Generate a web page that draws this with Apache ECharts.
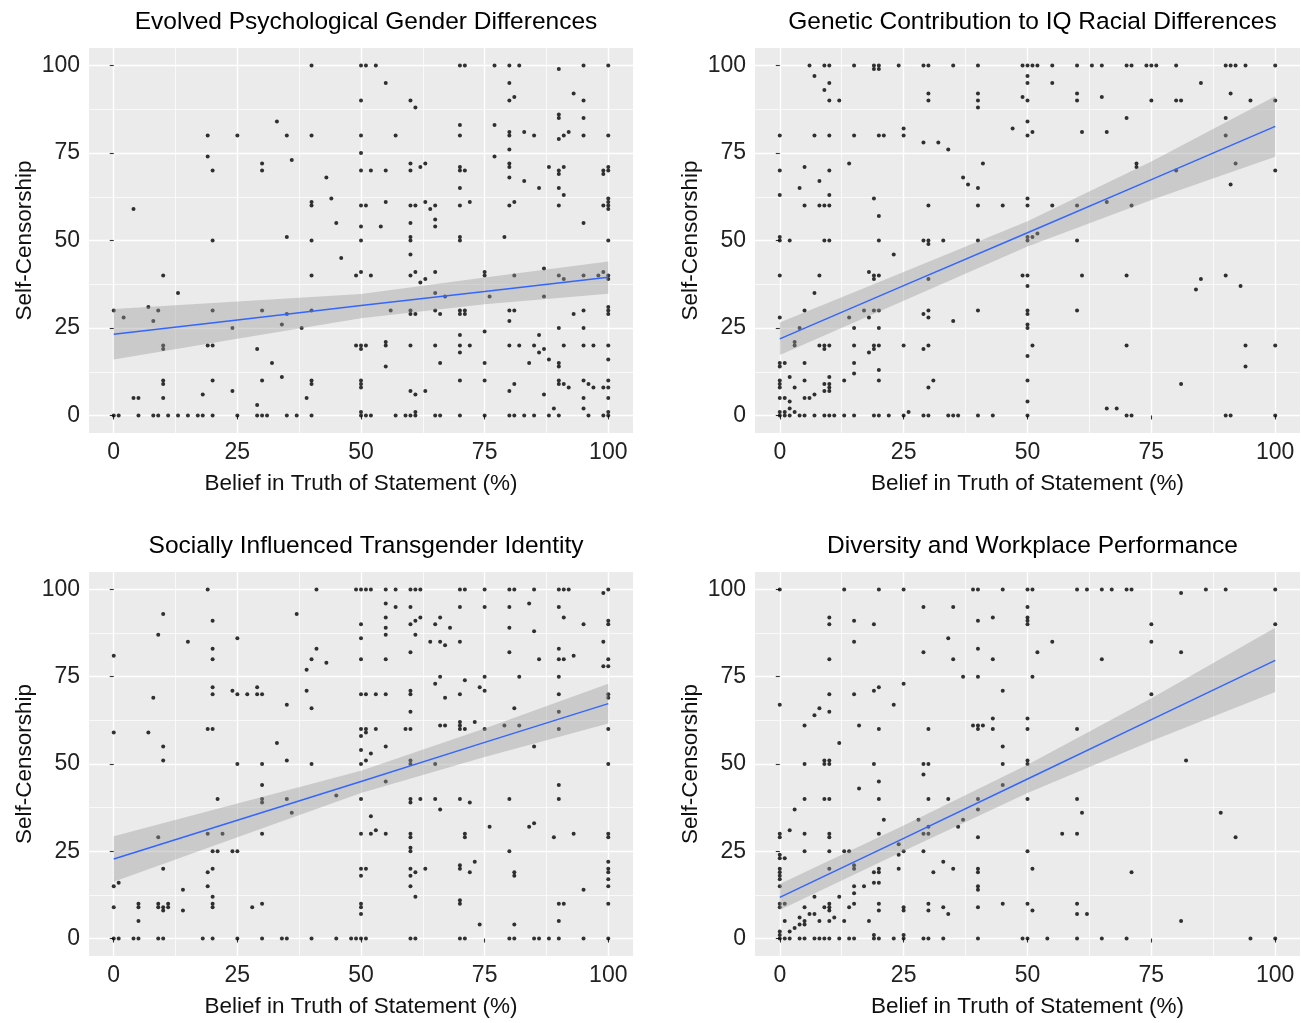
<!DOCTYPE html>
<html>
<head>
<meta charset="utf-8">
<script src="https://cdn.jsdelivr.net/npm/echarts@6/dist/echarts.min.js"></script>
<style>
html, body { margin: 0; padding: 0; background: #fff; }
#main { width: 1301px; height: 1023px; }
</style>
</head>
<body>
<div id="main"></div>
<script>
// ---- data ----
const panelTitles = [
  'Evolved Psychological Gender Differences',
  'Genetic Contribution to IQ Racial Differences',
  'Socially Influenced Transgender Identity',
  'Diversity and Workplace Performance'
];
const xName = 'Belief in Truth of Statement (%)';
const yName = 'Self-Censorship';
const majorTicks = [0, 25, 50, 75, 100];
const minorTicks = [12.5, 37.5, 62.5, 87.5];

// x positions where the fit line and band were read
const fitX = [0, 25, 50, 75, 100];

// panel 1
const p1Points = [
  [40,100],[50,100],[50,90],[33,84],[19,80],[25,80],[35,80],[40,80],[50,80],[50,75],[19,74],[36,73],[30,72],[20,70],[30,70],[50,70],
  [43,68],[44,62],[40,61],[40,60],[50,60],[4,59],[45,55],[50,54],[35,51],[20,50],[40,50],[50,50],[46,45],[50,41],[10,40],[40,40],[49,40],
  [13,35],[7,31],[0,30],[9,30],[20,30],[30,30],[40,30],[35,29],[2,28],[8,27],[34,26],[24,25],[38,25],[10,20],[19,20],[20,20],[49,20],[50,20],
  [10,19],[29,19],[50,19],[32,15],[34,11],[10,10],[20,10],[30,10],[40,10],[50,10],[10,9],[40,9],[50,9],[50,8],[24,7],[18,6],[4,5],[5,5],
  [10,5],[39,5],[29,3],[50,1],[0,0],[1,0],[5,0],[8,0],[9,0],[11,0],[13,0],[15,0],[17,0],[18,0],[20,0],[25,0],[29,0],[30,0],[31,0],[35,0],
  [37,0],[40,0],[50,0],
  [51,100],[53,100],[70,100],[71,100],[77,100],[80,100],[82,100],[95,100],[100,100],[90,99],[55,95],[80,95],[93,92],[81,91],[60,90],[80,90],
  [95,90],[61,88],[90,86],[90,85],[95,85],[70,83],[77,83],[80,81],[83,81],[92,81],[57,80],[70,80],[80,80],[85,80],[91,80],[95,80],[100,80],
  [90,79],[80,76],[77,74],[60,72],[63,72],[80,72],[62,71],[70,71],[80,71],[88,71],[91,71],[100,71],[52,70],[55,70],[60,70],[70,70],[71,70],
  [90,70],[99,70],[100,70],[90,69],[99,69],[80,68],[83,67],[70,65],[86,65],[90,65],[91,63],[100,62],[55,61],[63,61],[72,61],[81,61],[100,61],
  [51,60],[60,60],[61,60],[65,60],[70,60],[80,60],[90,60],[99,60],[100,60],[64,59],[100,59],[65,56],[60,55],[95,55],[54,54],[65,54],[60,51],
  [70,51],[79,51],[60,50],[70,50],[100,50],[60,46],[87,42],[61,41],[65,41],[75,41],[99,41],[52,40],[60,40],[75,40],[81,40],[90,40],[95,40],
  [98,40],[100,40],[63,39],[91,39],[100,39],[62,38],[65,35],[67,34],[76,34],[87,34],[100,31],[56,30],[60,30],[65,30],[70,30],[71,30],[80,30],
  [81,30],[95,30],[100,30],[60,29],[61,29],[66,29],[70,29],[71,29],[93,29],[100,29],[80,27],[90,25],[95,25],[75,24],[70,23],[86,23],[55,21],
  [51,20],[55,20],[60,20],[65,20],[70,20],[72,20],[80,20],[82,20],[85,20],[91,20],[95,20],[97,20],[100,20],[87,19],[70,18],[86,18],[88,16],
  [100,16],[66,15],[75,15],[84,15],[90,15],[55,14],[90,14],[70,10],[75,10],[90,10],[95,10],[100,10],[81,9],[90,9],[91,9],[96,9],[92,8],
  [97,8],[99,8],[100,8],[60,7],[63,7],[80,7],[61,6],[87,6],[95,5],[100,5],[89,2],[95,2],[61,1],[100,1],[51,0],[52,0],[57,0],[59,0],[60,0],
  [61,0],[65,0],[66,0],[70,0],[75,0],[80,0],[81,0],[83,0],[85,0],[88,0],[90,0],[96,0],[99,0],[100,0]
];
const p1Fit = [23.2, 27.3, 31.4, 35.4, 39.5];
const p1Upper = [30.4, 32.6, 34.7, 39.4, 44.0];
const p1Lower = [16.0, 21.9, 27.8, 31.8, 34.8];

// panel 2
const p2Points = [
  [6,100],[9,100],[10,100],[15,100],[19,100],[20,100],[24,100],[29,100],[30,100],[35,100],[40,100],[49,100],[19,99],[20,99],[7,97],[10,95],
  [9,93],[30,92],[40,92],[49,91],[10,90],[12,90],[30,90],[40,90],[40,88],[25,82],[47,82],[0,80],[7,80],[10,80],[15,80],[20,80],[21,80],
  [25,80],[29,78],[32,78],[34,76],[14,72],[41,72],[5,71],[0,70],[10,70],[37,68],[8,67],[38,66],[4,65],[40,65],[0,63],[10,63],[19,62],[5,60],
  [8,60],[9,60],[10,60],[30,60],[40,60],[45,60],[20,57],[0,51],[0,50],[2,50],[9,50],[10,50],[20,50],[29,50],[30,50],[33,50],[40,50],[30,49],
  [23,46],[18,41],[0,40],[8,40],[19,40],[20,40],[49,40],[19,39],[30,39],[7,35],[5,30],[17,30],[19,30],[20,30],[30,30],[40,30],[29,29],[0,28],
  [14,28],[18,28],[30,28],[35,27],[4,25],[15,25],[20,25],[3,21],[3,20],[8,20],[9,20],[10,20],[15,20],[19,20],[20,20],[25,20],[30,20],[9,19],
  [19,19],[29,19],[18,18],[0,15],[1,15],[5,15],[15,15],[0,14],[20,13],[15,12],[2,11],[10,11],[0,10],[5,10],[13,10],[20,10],[31,10],[0,9],
  [9,9],[10,9],[0,8],[3,8],[10,8],[30,8],[9,7],[10,7],[7,6],[0,5],[1,5],[5,5],[6,5],[2,4],[2,2],[0,1],[1,1],[3,1],[26,1],[0,0],[1,0],[2,0],
  [4,0],[5,0],[7,0],[9,0],[10,0],[11,0],[13,0],[15,0],[19,0],[20,0],[22,0],[25,0],[29,0],[30,0],[34,0],[35,0],[36,0],[40,0],[43,0],
  [50,100],[50,97],[50,95],[50,90],[50,84],[50,80],[50,62],[50,60],[50,51],[50,50],[50,40],[50,37],[50,30],[50,29],[50,26],[50,25],[50,17],
  [50,10],[50,4],[50,0],
  [51,100],[52,100],[55,100],[60,100],[63,100],[65,100],[70,100],[71,100],[74,100],[75,100],[76,100],[80,100],[90,100],[91,100],[92,100],
  [94,100],[100,100],[55,95],[85,95],[60,92],[91,92],[65,91],[60,90],[75,90],[80,90],[81,90],[95,90],[100,90],[70,85],[90,85],[51,81],[61,81],
  [66,81],[90,80],[72,72],[92,72],[72,71],[80,70],[100,70],[91,66],[66,61],[55,60],[60,60],[71,60],[51,51],[52,52],[60,50],[61,40],[70,40],
  [90,40],[85,39],[93,37],[84,36],[60,30],[51,20],[70,20],[94,20],[100,20],[94,14],[81,9],[66,2],[68,2],[70,0],[71,0],[90,0],[91,0],[100,0]
];
const p2Fit = [21.9, 37.1, 52.2, 67.4, 82.6];
const p2Upper = [26.6, 41.0, 55.5, 72.6, 91.2];
const p2Lower = [17.3, 32.8, 48.3, 61.6, 73.9];

// panel 3
const p3Points = [
  [19,100],[41,100],[49,100],[50,100],[10,93],[37,93],[20,91],[50,90],[9,87],[25,86],[50,86],[15,85],[20,83],[41,83],[0,81],[20,80],[40,80],
  [50,80],[43,79],[39,77],[20,72],[29,72],[24,71],[39,71],[20,70],[25,70],[27,70],[29,70],[30,70],[50,70],[8,69],[35,67],[40,66],[19,60],
  [20,60],[50,60],[0,59],[7,59],[50,58],[33,56],[10,55],[50,54],[10,51],[35,51],[25,50],[30,50],[40,50],[50,50],[30,44],[45,41],[21,40],
  [30,40],[35,40],[50,40],[30,39],[36,36],[19,30],[22,30],[30,30],[50,30],[9,29],[20,25],[21,25],[24,25],[25,25],[10,20],[20,20],[50,20],
  [19,19],[50,18],[1,16],[0,15],[19,15],[14,14],[20,12],[5,10],[9,10],[11,10],[20,10],[30,10],[50,10],[0,9],[5,9],[9,9],[10,9],[11,9],[20,9],
  [28,9],[50,9],[10,8],[14,8],[50,7],[5,5],[0,0],[1,0],[4,0],[5,0],[9,0],[10,0],[18,0],[20,0],[25,0],[30,0],[34,0],[35,0],[40,0],[45,0],
  [48,0],[49,0],[50,0],
  [51,100],[52,100],[55,100],[57,100],[60,100],[61,100],[62,100],[70,100],[71,100],[75,100],[80,100],[81,100],[85,100],[90,100],[91,100],
  [92,100],[100,100],[99,99],[55,96],[84,96],[57,95],[60,95],[70,95],[75,95],[80,95],[90,95],[55,92],[62,92],[66,92],[91,92],[61,91],[100,91],
  [60,90],[65,90],[95,90],[100,90],[55,89],[68,89],[80,89],[85,88],[55,87],[61,87],[64,85],[66,85],[70,85],[99,85],[67,84],[90,83],[60,82],
  [80,82],[93,81],[55,80],[86,80],[90,80],[91,80],[100,80],[99,78],[100,78],[66,75],[75,75],[82,75],[90,75],[71,74],[65,73],[74,72],[75,71],
  [60,71],[51,70],[53,70],[55,70],[60,70],[70,70],[90,70],[100,70],[67,69],[100,69],[81,66],[60,65],[90,65],[70,62],[73,62],[66,61],[67,61],
  [70,61],[79,61],[82,61],[51,60],[53,60],[59,60],[60,60],[70,60],[71,60],[75,60],[90,60],[100,60],[51,59],[55,55],[85,55],[52,53],[51,51],
  [60,51],[60,50],[65,50],[100,50],[55,45],[90,44],[60,40],[62,40],[65,40],[70,40],[80,40],[90,40],[60,39],[72,39],[66,37],[52,35],[85,33],
  [76,32],[84,32],[53,31],[52,30],[55,30],[60,30],[71,30],[93,30],[100,30],[60,29],[71,29],[89,29],[100,29],[60,26],[60,25],[80,25],[73,22],
  [100,22],[70,21],[51,20],[60,20],[63,20],[70,20],[100,20],[61,19],[72,19],[81,19],[100,19],[60,18],[81,18],[100,17],[60,15],[100,15],
  [95,14],[61,12],[70,11],[70,10],[90,10],[91,10],[100,10],[90,5],[74,4],[81,4],[51,0],[60,0],[61,0],[70,0],[71,0],[80,0],[81,0],[85,0],
  [86,0],[88,0],[90,0],[95,0],[100,0]
];
const p3Fit = [22.8, 33.9, 45.0, 56.2, 67.3];
const p3Upper = [29.3, 38.7, 48.1, 60.2, 73.0];
const p3Lower = [16.3, 29.0, 41.7, 52.0, 61.6];

// panel 4
const p4Points = [
  [0,100],[13,100],[20,100],[25,100],[39,100],[40,100],[45,100],[50,100],[29,95],[35,95],[50,95],[10,92],[43,92],[50,92],[15,91],[40,91],
  [50,91],[10,90],[19,90],[50,90],[34,86],[15,85],[40,83],[29,82],[10,80],[35,80],[43,80],[37,75],[40,75],[25,73],[20,72],[19,71],[45,71],
  [10,70],[15,70],[0,67],[23,67],[8,66],[10,65],[7,64],[43,63],[50,63],[5,61],[16,61],[39,61],[40,61],[41,61],[20,60],[30,60],[40,60],[43,60],
  [50,60],[12,56],[45,55],[9,51],[10,51],[50,51],[5,50],[9,50],[10,50],[19,50],[29,50],[30,50],[45,50],[50,50],[29,47],[20,45],[45,44],
  [16,43],[5,40],[9,40],[10,40],[20,40],[30,40],[34,40],[40,40],[50,40],[3,37],[40,37],[21,34],[28,34],[37,34],[30,32],[36,32],[2,31],[0,30],
  [5,30],[10,30],[20,30],[29,30],[30,30],[0,29],[10,29],[40,29],[24,27],[5,25],[10,25],[13,25],[14,25],[25,25],[29,25],[50,25],[24,24],
  [0,24],[0,23],[1,23],[33,22],[15,21],[0,20],[10,20],[15,20],[20,20],[24,20],[35,20],[40,20],[0,19],[19,19],[20,19],[31,19],[40,19],[0,18],
  [0,17],[19,16],[20,16],[0,15],[15,15],[17,15],[40,15],[40,14],[15,13],[7,12],[12,12],[0,10],[1,10],[10,10],[15,10],[20,10],[30,10],[45,10],
  [50,10],[0,9],[5,9],[9,9],[10,9],[14,9],[25,9],[33,9],[40,9],[10,8],[20,8],[25,8],[30,8],[6,7],[7,7],[34,7],[4,6],[11,6],[1,5],[5,5],[8,5],
  [10,5],[13,5],[18,5],[4,4],[5,4],[3,3],[0,2],[2,2],[0,1],[19,1],[25,1],[0,0],[1,0],[2,0],[4,0],[5,0],[7,0],[8,0],[9,0],[10,0],[12,0],
  [14,0],[15,0],[19,0],[20,0],[23,0],[25,0],[29,0],[30,0],[33,0],[40,0],[49,0],[50,0],
  [51,100],[60,100],[62,100],[65,100],[67,100],[70,100],[71,100],[86,100],[90,100],[100,100],[81,99],[75,90],[100,90],[55,85],[75,85],
  [52,82],[81,82],[65,80],[51,75],[75,70],[60,60],[82,51],[60,40],[61,36],[89,36],[57,30],[60,30],[92,29],[51,20],[71,19],[60,10],[51,8],
  [60,7],[62,7],[81,5],[54,0],[60,0],[65,0],[70,0],[95,0],[100,0]
];
const p4Fit = [11.8, 28.7, 45.7, 62.7, 79.7];
const p4Upper = [15.6, 32.4, 49.8, 68.8, 89.0];
const p4Lower = [8.2, 25.1, 41.7, 56.6, 70.6];

// ---- layout / styles ----
const font = "'Liberation Sans', Arial, sans-serif";
const boxes = [
  {left: 89, top: 48, width: 544, height: 385},
  {left: 755, top: 48, width: 545, height: 385},
  {left: 89, top: 572, width: 544, height: 384},
  {left: 755, top: 572, width: 545, height: 384}
];
const titleTops = [5, 5, 529, 529];

const panels = [
  {points: p1Points, fit: p1Fit, upper: p1Upper, lower: p1Lower},
  {points: p2Points, fit: p2Fit, upper: p2Upper, lower: p2Lower},
  {points: p3Points, fit: p3Fit, upper: p3Upper, lower: p3Lower},
  {points: p4Points, fit: p4Fit, upper: p4Upper, lower: p4Lower}
];

function bandRenderer(lower, upper) {
  return function (params, api) {
    if (params.dataIndex !== 0) return null;
    let pts = [];
    for (let i = 0; i < fitX.length; i++) pts.push(api.coord([fitX[i], upper[i]]));
    for (let i = fitX.length - 1; i >= 0; i--) pts.push(api.coord([fitX[i], lower[i]]));
    return {
      type: 'polygon',
      shape: {points: pts},
      style: {fill: 'rgba(153,153,153,0.4)'}
    };
  };
}

function majorAxis(gridIndex, isX) {
  let ax = {
    type: 'value',
    gridIndex: gridIndex,
    min: -5,
    max: 105,
    axisLine: {show: false},
    axisTick: {show: true, length: 4, lineStyle: {color: '#333', width: 1.1}, customValues: majorTicks},
    axisLabel: {
      customValues: majorTicks,
      color: '#222',
      fontFamily: font,
      fontSize: 23,
      margin: isX ? 8 : 9
    },
    splitLine: {show: true, lineStyle: {color: '#fff', width: 1.4}},
    name: isX ? xName : yName,
    nameLocation: 'middle',
    nameGap: isX ? 39 : 53,
    nameTextStyle: {color: '#111', fontFamily: font, fontSize: 22.5}
  };
  if (!isX) ax.nameRotate = 90;
  return ax;
}

function minorAxis(gridIndex) {
  return {
    type: 'value',
    gridIndex: gridIndex,
    min: -5,
    max: 105,
    axisLine: {show: false},
    axisTick: {show: false, customValues: minorTicks},
    axisLabel: {show: false, customValues: minorTicks},
    splitLine: {show: true, lineStyle: {color: '#fff', width: 0.7}}
  };
}

let option = {
  backgroundColor: '#fff',
  animation: false,
  title: [],
  grid: [],
  xAxis: [],
  yAxis: [],
  series: []
};

for (let i = 0; i < 4; i++) {
  let b = boxes[i];
  option.title.push({
    text: panelTitles[i],
    left: b.left + b.width / 2,
    top: titleTops[i],
    textAlign: 'center',
    textStyle: {fontFamily: font, fontSize: 24.5, fontWeight: 'normal', color: '#000'}
  });
  option.grid.push({
    left: b.left, top: b.top, width: b.width, height: b.height,
    show: true, backgroundColor: '#EBEBEB', borderWidth: 0
  });
  // axes 2*i = major, 2*i+1 = minor
  option.xAxis.push(majorAxis(i, true));
  option.xAxis.push(minorAxis(i));
  option.yAxis.push(majorAxis(i, false));
  option.yAxis.push(minorAxis(i));

  let p = panels[i];
  option.series.push({
    type: 'scatter',
    xAxisIndex: 2 * i,
    yAxisIndex: 2 * i,
    data: p.points,
    symbol: 'circle',
    symbolSize: 4,
    itemStyle: {color: '#000'},
    z: 2
  });
  option.series.push({
    type: 'custom',
    xAxisIndex: 2 * i,
    yAxisIndex: 2 * i,
    data: fitX.map((x, k) => [x, p.fit[k]]),
    renderItem: bandRenderer(p.lower, p.upper),
    z: 3
  });
  option.series.push({
    type: 'line',
    xAxisIndex: 2 * i,
    yAxisIndex: 2 * i,
    data: fitX.map((x, k) => [x, p.fit[k]]),
    showSymbol: false,
    lineStyle: {color: '#3366FF', width: 1.5},
    z: 4
  });
}

let chart = echarts.init(document.getElementById('main'));
chart.setOption(option);
</script>
</body>
</html>
